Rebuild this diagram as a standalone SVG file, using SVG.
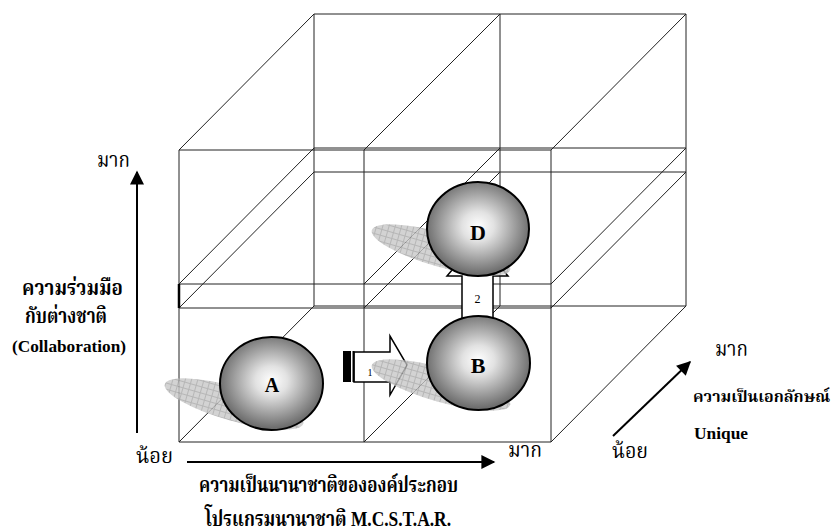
<svg xmlns="http://www.w3.org/2000/svg" width="836" height="532" viewBox="0 0 836 532">
  <defs>
    <radialGradient id="sphere" cx="50%" cy="47%" r="52%">
      <stop offset="0" stop-color="#ffffff"/>
      <stop offset="0.3" stop-color="#e2e2e2"/>
      <stop offset="1" stop-color="#6a6a6a"/>
    </radialGradient>
    <pattern id="grid" width="6" height="6" patternUnits="userSpaceOnUse">
      <rect width="6" height="6" fill="#c8c8c8"/>
      <path d="M0,0.5 H6 M0.5,0 V6" stroke="#a4a4a4" stroke-width="1"/>
    </pattern>
    <marker id="head" viewBox="0 0 10 10" refX="9" refY="5" markerWidth="8.5" markerHeight="7" markerUnits="strokeWidth" orient="auto">
      <path d="M0,0 L10,5 L0,10 Z" fill="#000"/>
    </marker>
    <style>
      .cube { fill: none; stroke: #222; stroke-width: 1; }
      .axis { fill: none; stroke: #000; stroke-width: 2; }
      .shadow { fill: url(#grid); opacity: 0.8; }
      .ball { fill: url(#sphere); stroke: #000; stroke-width: 2; }
      .blk { fill: #fff; stroke: #000; stroke-width: 1.5; }
      .lbl { font-family: "Liberation Serif", "DejaVu Serif", serif; font-weight: bold; font-size: 22px; text-anchor: middle; fill: #000; }
      .th { font-family: "Liberation Serif", "Noto Serif Thai", "Noto Sans Thai", "DejaVu Serif", serif; font-size: 22px; fill: #000; }
      .thb { font-family: "Liberation Serif", "Noto Serif Thai", "Noto Sans Thai", "DejaVu Serif", serif; font-size: 21px; font-weight: bold; fill: #000; }
      .en { font-family: "Liberation Serif", "DejaVu Serif", serif; font-size: 17px; font-weight: bold; fill: #000; }
      .num { font-family: "Liberation Serif", serif; font-size: 12px; text-anchor: middle; fill: #000; }
    </style>
  </defs>

  <g id="connectors">
    <g id="cube-lines">
      <path class="cube" d="M179,150 H551 V442 H179 Z M364,150 V442 M179,284 H551 M179,308 H551"/>
      <path class="cube" d="M314,14 H686 V306 H314 Z M500,14 V306 M314,148 H686 M314,172 H686"/>
      <path class="cube" d="M179,150 L314,14 M364,150 L500,14 M551,150 L686,14 M179,284 L314,148 M364,284 L500,148 M551,284 L686,148 M179,308 L314,172 M364,308 L500,172 M551,308 L686,172 M179,442 L314,306 M364,442 L500,306 M551,442 L686,306"/>
      <path d="M179,284 V308" stroke="#000" stroke-width="2.5"/>
    </g>
    <g id="axis-y">
      <path class="axis" d="M137,433 V172" marker-end="url(#head)"/>
    </g>
    <g id="axis-x">
      <path class="axis" d="M187,462 H494" marker-end="url(#head)"/>
    </g>
    <g id="axis-z">
      <path class="axis" d="M613,436 L690,362" marker-end="url(#head)"/>
    </g>
    <g id="arrow-1">
      <polygon class="blk" points="354,352 390,352 390,336 407,365 390,395 390,382 354,382"/>
      <rect x="343" y="351" width="8" height="31" fill="#000"/>
      <rect x="352.5" y="351" width="2" height="31" fill="#000"/>
      <text class="num" x="370" y="376" style="font-size:10px">1</text>
    </g>
    <g id="arrow-2">
      <polygon class="blk" points="462,322 462,276 447,276 477.5,240 508,276 493,276 493,322"/>
      <text class="num" x="477.5" y="303">2</text>
    </g>
  </g>

  <g id="node-A">
    <ellipse class="shadow" cx="234" cy="404" rx="72" ry="17" transform="rotate(16 234 404)"/>
    <ellipse class="ball" cx="271.5" cy="383.5" rx="51.5" ry="46.5"/>
    <text class="lbl" x="272" y="392" style="font-size:20px">A</text>
  </g>
  <g id="node-B">
    <ellipse class="shadow" cx="441" cy="385" rx="72" ry="17" transform="rotate(16 441 385)"/>
    <ellipse class="ball" cx="478.5" cy="363" rx="51.5" ry="47"/>
    <text class="lbl" x="478" y="373">B</text>
  </g>
  <g id="node-D">
    <ellipse class="shadow" cx="441" cy="250" rx="72" ry="17" transform="rotate(16 441 250)"/>
    <ellipse class="ball" cx="478" cy="229" rx="51" ry="47"/>
    <text class="lbl" x="478" y="240">D</text>
  </g>

  <g id="labels">
    <text class="th" x="97" y="167" textLength="33" lengthAdjust="spacingAndGlyphs">มาก</text>
    <text class="thb" x="22" y="295" textLength="101" lengthAdjust="spacingAndGlyphs">ความร่วมมือ</text>
    <text class="thb" x="25" y="323" textLength="82" lengthAdjust="spacingAndGlyphs">กับต่างชาติ</text>
    <text class="en" x="12" y="352" textLength="114" lengthAdjust="spacingAndGlyphs">(Collaboration)</text>
    <text class="th" x="136" y="463" textLength="37" lengthAdjust="spacingAndGlyphs">น้อย</text>
    <text class="th" x="508" y="457" textLength="34" lengthAdjust="spacingAndGlyphs">มาก</text>
    <text class="th" x="612" y="458" textLength="36" lengthAdjust="spacingAndGlyphs">น้อย</text>
    <text class="th" x="715" y="356" textLength="33" lengthAdjust="spacingAndGlyphs">มาก</text>
    <text class="thb" x="693" y="402" style="font-size:16px" textLength="137" lengthAdjust="spacingAndGlyphs">ความเป็นเอกลักษณ์</text>
    <text class="en" x="694" y="439" textLength="54" lengthAdjust="spacingAndGlyphs">Unique</text>
    <text class="thb" x="199" y="492" textLength="259" lengthAdjust="spacingAndGlyphs">ความเป็นนานาชาติขององค์ประกอบ</text>
    <text class="thb" x="205" y="526" textLength="246" lengthAdjust="spacingAndGlyphs">โปรแกรมนานาชาติ M.C.S.T.A.R.</text>
  </g>
</svg>
